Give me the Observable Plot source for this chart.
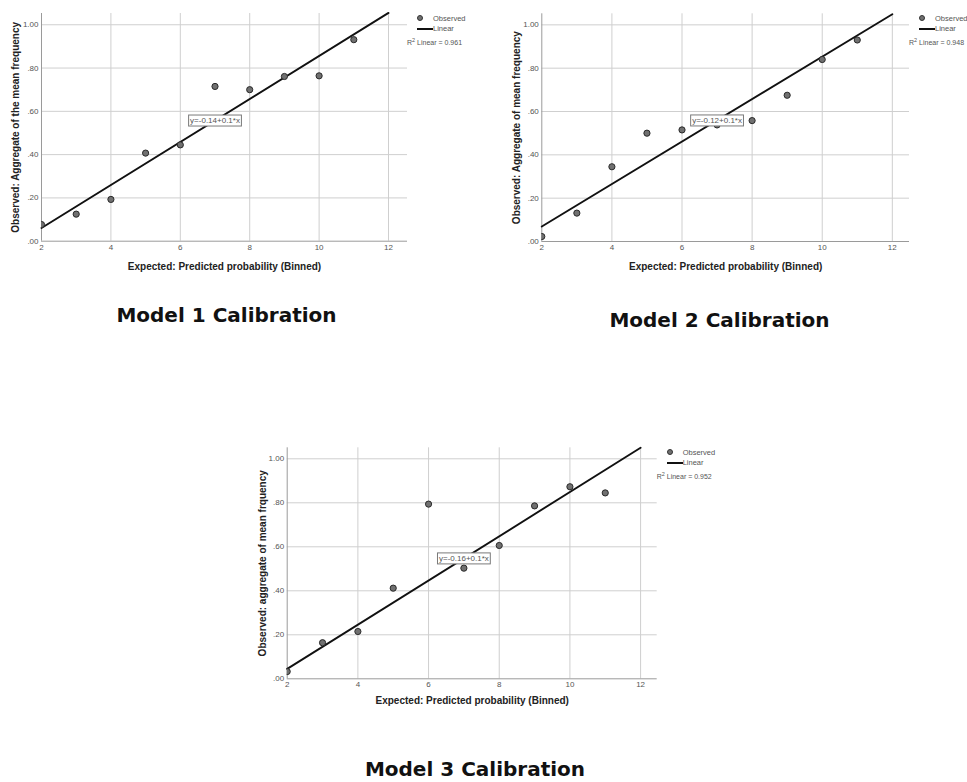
<!DOCTYPE html>
<html><head><meta charset="utf-8">
<script src="https://cdn.jsdelivr.net/npm/d3@7"></script>
<script src="https://cdn.jsdelivr.net/npm/@observablehq/plot@0.6"></script>
<style>
html,body{margin:0;padding:0;background:#fff;width:967px;height:782px;overflow:hidden;position:relative;}
.panel{position:absolute;}
.panel svg{overflow:visible;}
.title{position:absolute;font-family:"DejaVu Sans",sans-serif;font-weight:bold;font-size:20px;line-height:20px;color:#111;white-space:nowrap;transform:translateX(-50%);}
.leg{position:absolute;font-family:"Liberation Sans",Arial,sans-serif;font-size:7.5px;line-height:8px;color:#555;white-space:nowrap;}
.leg.r2{font-size:7px;}
.leg sup{font-size:5.5px;line-height:0;vertical-align:3px;}
.legdot{position:absolute;width:6px;height:6px;border-radius:50%;background:#707070;border:1px solid #333;box-sizing:border-box;}
.legline{position:absolute;width:16px;height:2px;background:#111;}
</style></head><body>
<script>
// ---- data ----
const bins = [2, 3, 4, 5, 6, 7, 8, 9, 10, 11];
const observed1 = [0.077, 0.125, 0.193, 0.407, 0.445, 0.715, 0.700, 0.761, 0.764, 0.931];
const observed2 = [0.023, 0.131, 0.345, 0.500, 0.515, 0.538, 0.558, 0.675, 0.840, 0.930];
const observed3 = [0.033, 0.164, 0.215, 0.412, 0.794, 0.503, 0.606, 0.786, 0.873, 0.845];
const intercepts = [-0.138, -0.127, -0.156];
const slopes = [0.0994, 0.098, 0.1005];
const lineRange = [2, 12];
const equationAt = 7;
const equations = ["y=-0.14+0.1*x", "y=-0.12+0.1*x", "y=-0.16+0.1*x"];
const r2Values = ["0.961", "0.948", "0.952"];
const yTitles = ["Observed: Aggregate of the mean frequency", "Observed: Aggregate of mean frequency", "Observed: aggregate of mean frquency"];
const xTitle = "Expected: Predicted probability (Binned)";
const chartTitles = ["Model 1 Calibration", "Model 2 Calibration", "Model 3 Calibration"];
const xTicks = [2, 4, 6, 8, 10, 12];
const yTicks = [0, 0.2, 0.4, 0.6, 0.8, 1.0];
const yTickLabels = [".00", ".20", ".40", ".60", ".80", "1.00"];
const legendLabels = ["Observed", "Linear"];

// ---- layout ----
const layout = [
  {left: 0, top: 0, width: 480, height: 280, mL: 41, mR: 73, mT: 13, mB: 39.3, xMax: 12.547, yMax: 1.052, xtDy: 26, ytDx: -26, titleX: 226.5, titleBase: 322.3},
  {left: 480, top: 0, width: 487, height: 280, mL: 61.3, mR: 58, mT: 13.3, mB: 39, xMax: 12.49, yMax: 1.051, xtDy: 25.7, ytDx: -25.3, titleX: 719.5, titleBase: 327.3},
  {left: 240, top: 440, width: 490, height: 270, mL: 46.7, mR: 73.3, mT: 7.3, mB: 31.7, xMax: 12.47, yMax: 1.05, xtDy: 22, ytDx: -24.7, titleX: 475, titleBase: 776}
];
const observedAll = [observed1, observed2, observed3];

observedAll.forEach((obs, i) => {
  const L = layout[i];
  const pts = bins.map((b, j) => ({x: b, y: obs[j]}));
  const fit = x => intercepts[i] + slopes[i] * x;
  const linePts = lineRange.map(x => ({x, y: fit(x)}));
  const eq = [{x: equationAt, y: fit(equationAt), t: equations[i]}];

  const svg = Plot.plot({
    width: L.width, height: L.height,
    marginLeft: L.mL, marginRight: L.mR, marginTop: L.mT, marginBottom: L.mB,
    style: {fontFamily: '"Liberation Sans", Arial, sans-serif', fontSize: "8px", color: "#555", background: "transparent", overflow: "visible"},
    x: {domain: [2, L.xMax], ticks: xTicks, tickSize: 0, tickPadding: 3, tickFormat: d => String(d), label: null},
    y: {domain: [0, L.yMax], ticks: yTicks, tickSize: 0, tickPadding: 3, tickFormat: d => yTickLabels[yTicks.indexOf(d)], label: null},
    marks: [
      Plot.ruleX(xTicks.slice(1), {stroke: "#cfcfcf", strokeWidth: 1}),
      Plot.ruleY(yTicks.slice(1), {stroke: "#cfcfcf", strokeWidth: 1}),
      Plot.ruleX([2], {stroke: "#9a9a9a", strokeWidth: 1}),
      Plot.ruleY([0], {stroke: "#9a9a9a", strokeWidth: 1}),
      Plot.line(linePts, {x: "x", y: "y", stroke: "#111", strokeWidth: 1.9}),
      Plot.dot(pts, {x: "x", y: "y", r: 3.1, fill: "#707070", stroke: "#2a2a2a", strokeWidth: 1, clip: "frame"}),
      Plot.text(eq, {x: "x", y: "y", text: "t", fontSize: 8, fill: "#555", textAnchor: "middle"}),
      Plot.text([xTitle], {frameAnchor: "bottom", lineAnchor: "middle", textAnchor: "middle", dy: L.xtDy, text: d => d, fontSize: 10, fontWeight: "bold", fill: "#222"}),
      Plot.text([yTitles[i]], {frameAnchor: "left", lineAnchor: "middle", textAnchor: "middle", rotate: -90, dx: L.ytDx, text: d => d, fontSize: 10, fontWeight: "bold", fill: "#222"})
    ]
  });

  const div = document.createElement("div");
  div.className = "panel";
  div.style.left = L.left + "px";
  div.style.top = L.top + "px";
  div.appendChild(svg);
  document.body.appendChild(div);

  // box round the equation label
  d3.select(svg).selectAll("text").filter(function() { return this.textContent === equations[i]; }).each(function() {
    const bb = this.getBBox();
    const pad = 1.5;
    const r = d3.select(this.parentNode).insert("rect", () => this)
      .attr("x", bb.x - pad).attr("y", bb.y - pad + 0.5)
      .attr("width", bb.width + 2 * pad).attr("height", bb.height + 2 * pad - 1)
      .attr("fill", "#fff").attr("stroke", "#7a7a7a").attr("stroke-width", 1);
    const tr = this.getAttribute("transform");
    if (tr) r.attr("transform", tr);
  });

  // legend
  const fr = L.left + L.width - L.mR;
  const ft = L.top + L.mT;
  const add = (cls, x, y, html) => {
    const e = document.createElement("div");
    e.className = cls;
    e.style.left = x + "px";
    e.style.top = y + "px";
    if (html) e.innerHTML = html;
    document.body.appendChild(e);
  };
  add("legdot", fr + 10, ft + 2);
  add("leg", fr + 26, ft + 1.5, legendLabels[0]);
  add("legline", fr + 10, ft + 15);
  add("leg", fr + 26, ft + 12, legendLabels[1]);
  add("leg r2", fr, ft + 25.5, "R<sup>2</sup> Linear = " + r2Values[i]);

  // chart title
  const t = document.createElement("div");
  t.className = "title";
  t.textContent = chartTitles[i];
  t.style.left = L.titleX + "px";
  t.style.top = (L.titleBase - 16.9) + "px";
  document.body.appendChild(t);
});
</script>
</body></html>
